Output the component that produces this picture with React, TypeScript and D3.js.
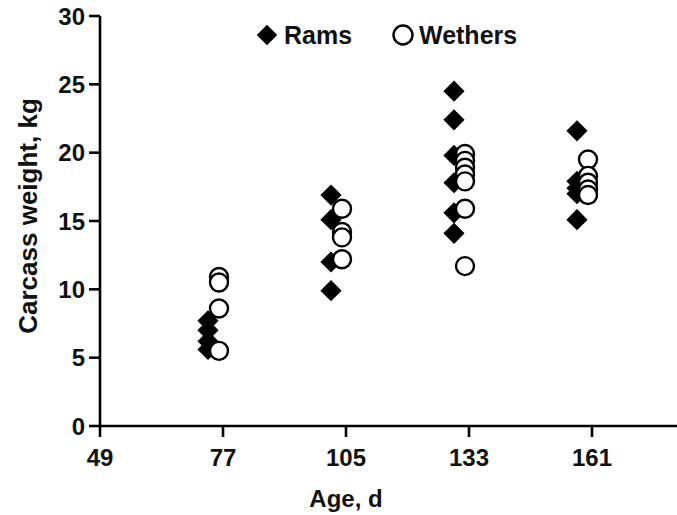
import React from "react";
import * as d3 from "d3";

const ages = [77, 105, 133, 161];
const xTicks = [49, 77, 105, 133, 161];
const yTicks = [0, 5, 10, 15, 20, 25, 30];
const ramsWeights = [
  [7.7, 7.0, 6.2, 5.6],
  [16.9, 15.1, 12.0, 9.9],
  [24.5, 22.4, 19.8, 17.8, 15.6, 14.1],
  [21.6, 17.9, 17.4, 17.0, 15.1],
];
const wethersWeights = [
  [10.9, 10.5, 8.6, 5.5],
  [15.9, 14.2, 13.8, 12.2],
  [19.9, 19.4, 18.9, 18.4, 17.9, 15.9, 11.7],
  [19.5, 18.3, 17.8, 17.3, 16.9],
];

const W = 677;
const H = 515;
const FONT = "'Liberation Sans', Arial, Helvetica, sans-serif";

export default function App() {
  const x = d3.scaleLinear().domain([49, 161]).range([100, 592]);
  const y = d3.scaleLinear().domain([0, 30]).range([426, 16]);
  const diamond = d3.symbol(d3.symbolSquare, 225)() as string;
  const legendDiamond = d3.symbol(d3.symbolSquare, 210)() as string;
  const ramDx = -15;
  const wetherDx = -4;
  const sw = 2.6;

  const rams = ages.flatMap((a, i) => ramsWeights[i].map((v) => ({ a, v })));
  const wethers = ages.flatMap((a, i) => wethersWeights[i].map((v) => ({ a, v })));

  return (
    <svg width={W} height={H} style={{ position: "absolute", left: 0, top: 0, background: "#fff" }} fontFamily={FONT} fontWeight="bold">
      {/* axes */}
      <line x1={x(49)} x2={W} y1={y(0)} y2={y(0)} stroke="#000" strokeWidth={sw} />
      <line x1={x(49)} x2={x(49)} y1={y(30)} y2={y(0)} stroke="#000" strokeWidth={sw} />
      {yTicks.map((t) => (
        <g key={"y" + t}>
          <line x1={x(49) - 11} x2={x(49)} y1={y(t)} y2={y(t)} stroke="#000" strokeWidth={sw} />
          <text x={x(49) - 15} y={y(t)} dy="0.36em" textAnchor="end" fontSize={24} fill="#111">
            {t}
          </text>
        </g>
      ))}
      {xTicks.map((t) => (
        <g key={"x" + t}>
          <line x1={x(t)} x2={x(t)} y1={y(0)} y2={y(0) + 11} stroke="#000" strokeWidth={sw} />
          <text x={x(t)} y={y(0) + 40} textAnchor="middle" fontSize={24} fill="#111">
            {t}
          </text>
        </g>
      ))}
      <text x={(x(49) + x(161)) / 2} y={507} textAnchor="middle" fontSize={24} fill="#111">
        Age, d
      </text>
      <text transform={`translate(37,${(y(0) + y(30)) / 2 - 5}) rotate(-90)`} textAnchor="middle" fontSize={26} fill="#111">
        Carcass weight, kg
      </text>

      {/* data */}
      {rams.map((d, i) => (
        <path key={"r" + i} d={diamond} transform={`translate(${x(d.a) + ramDx},${y(d.v)}) rotate(45)`} fill="#000" />
      ))}
      {wethers.map((d, i) => (
        <circle key={"w" + i} cx={x(d.a) + wetherDx} cy={y(d.v)} r={9} fill="#fff" stroke="#000" strokeWidth={2.4} />
      ))}

      {/* legend */}
      <path d={legendDiamond} transform="translate(267,35) rotate(45)" fill="#000" />
      <text x={284} y={35} dy="0.36em" fontSize={25} fill="#111">Rams</text>
      <circle cx={403} cy={35} r={9.5} fill="#fff" stroke="#000" strokeWidth={2.4} />
      <text x={419} y={35} dy="0.36em" fontSize={25} fill="#111">Wethers</text>
    </svg>
  );
}
